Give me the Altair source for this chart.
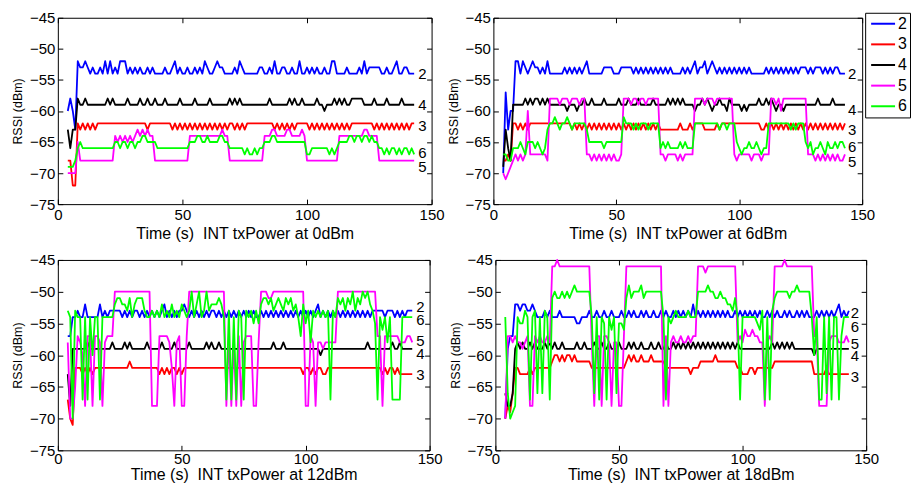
import altair as alt
import pandas as pd

FONT = "Liberation Sans"
SERIES = ["2", "3", "4", "5", "6"]
COLORS = ["#0000FF", "#FF0000", "#000000", "#FF00FF", "#00FF00"]
TIME = list(range(4, 144))  # one RSSI sample per second
X_TICKS = [0, 50, 100, 150]
Y_TICKS = [-75, -70, -65, -60, -55, -50, -45]
TITLES = [
    "Time (s)\u00a0 INT txPower at 0dBm",
    "Time (s)\u00a0 INT txPower at 6dBm",
    "Time (s)\u00a0 INT txPower at 12dBm",
    "Time (s)\u00a0 INT txPower at 18dBm",
]

# ---------------- panel 1 : 0 dBm ----------------
P1_2 = [-60,-58,-60,-63,-52,-53,-53,-52,-53,-54, -53,-54,-54,-53,-54,-52,-54,-52,-54,-53,
        -54,-52,-52,-52,-54,-53,-54,-53,-54,-53, -54,-54,-53,-54,-53,-54,-54,-54,-54,-53,
        -54,-54,-53,-52,-54,-53,-54,-54,-53,-54, -54,-53,-54,-53,-54,-52,-53,-54,-54,-53,
        -52,-53,-53,-54,-54,-54,-54,-53,-54,-52, -53,-54,-54,-54,-54,-54,-54,-53,-53,-54,
        -54,-53,-54,-52,-54,-54,-53,-53,-54,-54, -53,-54,-54,-52,-54,-54,-53,-54,-53,-54,
        -53,-54,-54,-53,-54,-54,-52,-52,-54,-54, -54,-54,-53,-54,-54,-54,-54,-53,-54,-52,
        -54,-53,-53,-53,-53,-53,-54,-54,-53,-54, -54,-53,-52,-54,-54,-53,-53,-54,-54,-54]
P1_3 = [-68,-68,-72,-72,-62,-63,-62,-63,-62,-63, -62,-63,-62,-62,-62,-62,-62,-62,-62,-62,
        -62,-62,-62,-62,-62,-62,-62,-62,-62,-62, -62,-62,-63,-62,-62,-62,-62,-62,-62,-62,
        -62,-62,-63,-62,-63,-62,-63,-62,-63,-62, -63,-62,-63,-62,-63,-62,-63,-62,-63,-62,
        -63,-62,-63,-62,-63,-62,-62,-63,-62,-63, -62,-63,-62,-62,-62,-62,-62,-62,-62,-62,
        -62,-62,-62,-63,-62,-63,-62,-63,-62,-63, -62,-63,-62,-62,-62,-62,-62,-63,-62,-63,
        -62,-63,-62,-63,-62,-63,-62,-63,-62,-63, -62,-63,-62,-63,-62,-62,-62,-62,-62,-62,
        -62,-62,-62,-63,-62,-63,-62,-63,-62,-63, -62,-63,-62,-63,-62,-63,-62,-63,-62,-62]
P1_4 = [-63,-66,-63,-63,-58,-59,-59,-58,-59,-59, -59,-59,-59,-59,-59,-59,-58,-59,-58,-59,
        -59,-59,-59,-59,-58,-59,-59,-59,-59,-58, -59,-59,-58,-59,-59,-58,-59,-59,-59,-58,
        -59,-59,-59,-59,-59,-58,-59,-59,-59,-59, -59,-58,-59,-59,-59,-59,-59,-58,-59,-59,
        -59,-59,-59,-59,-59,-58,-59,-58,-59,-58, -59,-59,-59,-59,-59,-59,-59,-59,-59,-59,
        -59,-58,-59,-59,-59,-59,-59,-59,-59,-58, -59,-58,-59,-59,-58,-59,-59,-59,-59,-59,
        -58,-59,-59,-60,-59,-59,-59,-58,-59,-58, -59,-58,-59,-59,-58,-58,-58,-58,-58,-59,
        -59,-59,-59,-58,-59,-59,-59,-59,-58,-59, -59,-59,-59,-59,-58,-59,-59,-59,-59,-59]
P1_5 = [-70,-70,-70,-70,-65,-68,-68,-68,-68,-68, -68,-68,-68,-68,-68,-68,-68,-68,-68,-64,
        -65,-64,-65,-64,-65,-64,-65,-64,-63,-64, -63,-64,-63,-64,-64,-68,-68,-68,-68,-68,
        -68,-68,-68,-68,-68,-68,-68,-68,-68,-64, -64,-64,-64,-64,-64,-64,-64,-64,-64,-64,
        -64,-64,-63,-64,-64,-68,-68,-68,-68,-68, -68,-68,-68,-68,-68,-68,-68,-68,-68,-64,
        -64,-64,-63,-63,-64,-64,-64,-64,-63,-63, -64,-64,-64,-64,-63,-64,-68,-68,-68,-68,
        -68,-68,-68,-68,-68,-68,-68,-68,-68,-64, -64,-64,-64,-64,-64,-64,-64,-64,-64,-63,
        -63,-64,-64,-64,-64,-68,-68,-68,-68,-68, -68,-68,-68,-68,-68,-68,-68,-68,-68,-68]
P1_6 = [-69,-69,-69,-68,-66,-65,-66,-66,-66,-66, -66,-66,-66,-66,-66,-66,-66,-66,-66,-65,
        -65,-66,-65,-65,-66,-65,-65,-66,-65,-65, -64,-64,-65,-65,-65,-65,-66,-66,-66,-66,
        -66,-66,-66,-66,-66,-66,-66,-66,-66,-65, -65,-65,-64,-64,-65,-65,-64,-65,-65,-65,
        -65,-64,-64,-65,-65,-66,-66,-66,-66,-66, -66,-67,-66,-67,-67,-66,-67,-66,-66,-65,
        -65,-65,-64,-64,-65,-65,-65,-65,-65,-65, -65,-65,-65,-65,-65,-65,-67,-67,-66,-66,
        -66,-66,-66,-66,-66,-67,-66,-67,-66,-65, -65,-65,-65,-64,-64,-65,-64,-64,-65,-64,
        -64,-65,-64,-65,-65,-66,-66,-67,-66,-67, -66,-66,-67,-66,-67,-66,-66,-67,-66,-67]

# ---------------- panel 2 : 6 dBm ----------------
P2_2 = [-70,-57,-63,-60,-60,-52,-52,-54,-52,-53, -54,-53,-52,-53,-53,-54,-53,-54,-52,-54,
        -54,-54,-54,-54,-54,-53,-54,-53,-54,-53, -54,-53,-54,-53,-52,-54,-54,-54,-54,-54,
        -54,-53,-53,-53,-53,-54,-54,-54,-53,-53, -53,-53,-53,-54,-53,-54,-53,-54,-53,-54,
        -53,-54,-53,-54,-53,-54,-53,-54,-53,-54, -54,-54,-54,-53,-54,-53,-54,-53,-52,-54,
        -53,-53,-52,-54,-53,-52,-53,-54,-53,-54, -53,-54,-53,-54,-53,-54,-53,-54,-53,-54,
        -53,-54,-54,-54,-54,-54,-54,-53,-54,-53, -54,-53,-54,-53,-54,-53,-54,-53,-54,-53,
        -54,-53,-53,-53,-54,-53,-54,-53,-53,-53, -54,-53,-54,-53,-54,-53,-53,-54,-54,-54]
P2_3 = [-68,-68,-67,-68,-62,-62,-63,-62,-63,-62, -63,-62,-62,-62,-62,-62,-62,-62,-62,-62,
        -62,-62,-62,-62,-62,-62,-62,-62,-63,-62, -63,-62,-63,-62,-63,-62,-63,-62,-63,-62,
        -63,-62,-63,-62,-63,-62,-63,-62,-63,-62, -63,-62,-63,-62,-63,-62,-63,-62,-63,-62,
        -63,-62,-63,-62,-63,-63,-63,-63,-63,-63, -63,-63,-62,-63,-63,-63,-62,-63,-62,-62,
        -62,-62,-63,-63,-63,-63,-63,-62,-63,-62, -62,-62,-62,-62,-62,-62,-62,-62,-62,-62,
        -62,-62,-62,-62,-62,-63,-63,-62,-63,-62, -63,-62,-63,-62,-63,-62,-63,-62,-63,-62,
        -63,-62,-63,-62,-63,-62,-63,-62,-63,-62, -63,-62,-63,-62,-63,-62,-63,-62,-63,-62]
P2_4 = [-69,-63,-66,-68,-59,-59,-59,-59,-59,-58, -59,-58,-59,-58,-58,-59,-58,-59,-58,-59,
        -59,-59,-59,-59,-59,-59,-60,-59,-59,-59, -60,-59,-59,-58,-59,-59,-58,-59,-59,-59,
        -59,-58,-59,-59,-59,-59,-59,-58,-59,-59, -59,-58,-59,-59,-59,-58,-59,-59,-59,-59,
        -59,-58,-59,-59,-59,-59,-59,-58,-59,-58, -59,-58,-59,-58,-59,-59,-59,-59,-60,-59,
        -59,-58,-59,-58,-59,-60,-59,-59,-58,-59, -59,-60,-58,-59,-59,-59,-59,-60,-59,-60,
        -59,-59,-59,-59,-58,-59,-59,-58,-59,-58, -59,-60,-59,-59,-60,-59,-59,-59,-59,-59,
        -59,-59,-59,-59,-59,-59,-59,-59,-58,-59, -59,-59,-59,-59,-58,-59,-59,-59,-59,-59]
P2_5 = [-70,-71,-70,-69,-68,-67,-68,-67,-68,-67, -60,-67,-67,-67,-67,-67,-67,-67,-68,-58,
        -58,-58,-58,-59,-58,-58,-58,-59,-58,-58, -58,-59,-58,-58,-67,-67,-68,-67,-68,-67,
        -68,-67,-68,-67,-68,-67,-68,-68,-67,-58, -58,-58,-59,-58,-58,-59,-58,-58,-59,-58,
        -58,-58,-58,-58,-67,-67,-68,-67,-67,-67, -67,-68,-67,-68,-67,-67,-67,-67,-58,-58,
        -58,-58,-59,-58,-58,-58,-59,-58,-58,-58, -58,-58,-58,-58,-67,-68,-67,-67,-67,-67,
        -67,-68,-67,-67,-67,-68,-67,-67,-67,-58, -58,-59,-58,-60,-58,-58,-58,-58,-58,-58,
        -58,-58,-58,-58,-67,-67,-67,-68,-67,-68, -67,-68,-67,-68,-67,-68,-67,-68,-68,-67]
P2_6 = [-67,-67,-68,-68,-66,-66,-66,-65,-66,-67, -65,-65,-65,-66,-65,-66,-67,-66,-63,-62,
        -62,-61,-62,-63,-62,-62,-61,-62,-63,-62, -62,-62,-62,-62,-63,-65,-65,-65,-65,-65,
        -65,-66,-65,-65,-65,-65,-65,-65,-65,-61, -62,-62,-62,-63,-62,-63,-62,-62,-62,-63,
        -62,-62,-62,-62,-66,-65,-66,-65,-66,-66, -66,-66,-65,-66,-65,-66,-66,-66,-62,-62,
        -62,-62,-62,-62,-62,-62,-62,-62,-63,-62, -62,-63,-62,-62,-62,-65,-66,-67,-66,-66,
        -65,-66,-66,-65,-66,-67,-66,-66,-62,-62, -62,-62,-62,-62,-62,-62,-62,-63,-62,-63,
        -62,-62,-62,-65,-66,-65,-67,-66,-66,-65, -66,-67,-65,-66,-66,-65,-66,-65,-65,-66]

# ---------------- panel 3 : 12 dBm ----------------
P3_2 = [-57,-57,-54,-54,-53,-54,-54,-52,-54,-54, -54,-54,-54,-52,-54,-53,-54,-53,-53,-53,
        -53,-53,-54,-53,-54,-53,-54,-53,-53,-54, -53,-54,-53,-54,-53,-54,-53,-54,-53,-52,
        -54,-53,-54,-53,-54,-53,-53,-52,-53,-54, -53,-54,-53,-54,-53,-54,-53,-54,-53,-53,
        -54,-53,-54,-53,-54,-53,-54,-53,-54,-53, -54,-53,-54,-53,-54,-53,-54,-54,-53,-54,
        -53,-54,-53,-54,-53,-54,-53,-54,-53,-54, -53,-54,-53,-54,-53,-54,-53,-54,-53,-54,
        -53,-52,-54,-53,-54,-53,-54,-53,-54,-53, -54,-53,-54,-53,-54,-53,-54,-53,-54,-53,
        -54,-53,-54,-53,-53,-53,-53,-53,-54,-53, -53,-53,-54,-53,-54,-53,-54,-53,-53,-53]
P3_3 = [-67,-70,-71,-62,-62,-62,-63,-62,-63,-62, -63,-62,-62,-62,-62,-62,-62,-62,-62,-62,
        -62,-62,-62,-62,-62,-61,-62,-62,-62,-62, -62,-62,-62,-62,-62,-62,-62,-63,-62,-63,
        -62,-63,-62,-62,-63,-62,-63,-62,-62,-62, -62,-62,-62,-62,-62,-62,-62,-62,-62,-62,
        -62,-62,-62,-62,-62,-62,-62,-62,-62,-62, -62,-62,-62,-62,-62,-62,-62,-62,-62,-62,
        -62,-62,-62,-62,-62,-62,-62,-62,-62,-62, -62,-62,-62,-62,-62,-63,-62,-62,-63,-62,
        -63,-62,-62,-63,-63,-62,-62,-62,-62,-62, -62,-62,-62,-62,-62,-62,-62,-62,-62,-62,
        -62,-62,-62,-62,-62,-62,-62,-63,-62,-63, -62,-62,-63,-62,-63,-63,-63,-63,-63,-63]
P3_4 = [-63,-68,-59,-59,-59,-59,-59,-59,-58,-59, -59,-59,-59,-59,-59,-59,-59,-59,-58,-59,
        -59,-59,-59,-58,-59,-58,-59,-59,-59,-59, -59,-59,-58,-59,-59,-59,-59,-59,-58,-59,
        -59,-59,-59,-58,-59,-59,-59,-59,-59,-58, -59,-59,-59,-59,-59,-59,-58,-59,-58,-59,
        -59,-58,-59,-59,-59,-59,-59,-59,-59,-59, -59,-59,-59,-59,-59,-59,-59,-59,-59,-59,
        -59,-59,-59,-58,-59,-59,-59,-58,-59,-59, -59,-59,-59,-59,-59,-59,-59,-59,-59,-59,
        -59,-59,-60,-59,-59,-59,-59,-59,-59,-59, -59,-59,-59,-59,-59,-59,-59,-59,-59,-59,
        -59,-58,-59,-59,-59,-59,-59,-59,-59,-59, -59,-58,-59,-59,-58,-59,-59,-59,-59,-59]
P3_5 = [-58,-70,-70,-65,-57,-58,-60,-68,-57,-57, -68,-57,-57,-58,-68,-58,-57,-57,-57,-50,
        -50,-50,-50,-50,-50,-50,-50,-50,-50,-50, -50,-50,-50,-50,-68,-68,-68,-57,-57,-57,
        -57,-58,-62,-68,-58,-57,-68,-68,-57,-50, -50,-50,-50,-50,-50,-50,-50,-50,-50,-50,
        -50,-50,-50,-50,-68,-57,-68,-58,-68,-57, -68,-58,-57,-57,-57,-68,-68,-58,-50,-50,
        -50,-51,-51,-50,-50,-50,-50,-50,-50,-50, -50,-50,-50,-50,-50,-50,-68,-68,-57,-58,
        -68,-58,-58,-59,-58,-58,-58,-58,-58,-50, -50,-50,-50,-50,-50,-50,-50,-50,-50,-50,
        -50,-50,-50,-50,-50,-57,-57,-68,-57,-57, -57,-57,-57,-57,-58,-58,-58,-57,-57,-58]
P3_6 = [-53,-54,-70,-53,-54,-54,-67,-54,-67,-54, -60,-54,-54,-67,-54,-54,-54,-54,-54,-52,
        -51,-51,-52,-52,-53,-51,-54,-52,-51,-51, -51,-53,-54,-54,-53,-54,-53,-54,-52,-54,
        -53,-54,-52,-54,-53,-54,-52,-53,-54,-53, -50,-54,-52,-50,-54,-53,-50,-53,-52,-52,
        -52,-51,-52,-54,-67,-53,-67,-54,-67,-53, -54,-67,-53,-54,-53,-55,-53,-55,-52,-51,
        -51,-52,-51,-53,-52,-51,-52,-53,-51,-52, -51,-53,-52,-54,-57,-52,-55,-53,-58,-53,
        -54,-53,-54,-53,-54,-53,-67,-53,-54,-51, -52,-51,-53,-51,-52,-50,-53,-51,-52,-50,
        -51,-50,-52,-53,-55,-67,-54,-56,-54,-58, -54,-67,-67,-67,-67,-54,-54,-54,-54,-54]

# ---------------- panel 4 : 18 dBm ----------------
P4_2 = [-70,-59,-57,-57,-52,-52,-53,-52,-52,-53, -53,-52,-53,-54,-54,-54,-53,-54,-53,-54,
        -54,-54,-53,-54,-54,-54,-54,-54,-54,-55, -55,-54,-54,-54,-53,-54,-54,-53,-54,-54,
        -53,-54,-54,-53,-54,-54,-54,-53,-54,-54, -53,-54,-53,-54,-54,-53,-54,-53,-54,-54,
        -53,-54,-54,-53,-54,-53,-54,-54,-53,-54, -53,-54,-53,-54,-53,-54,-52,-54,-53,-54,
        -53,-54,-53,-54,-53,-54,-53,-54,-53,-54, -53,-54,-54,-53,-54,-53,-54,-53,-54,-53,
        -54,-53,-54,-53,-54,-54,-53,-54,-53,-54, -53,-54,-54,-53,-54,-53,-54,-54,-53,-54,
        -53,-54,-53,-54,-54,-54,-53,-54,-53,-54, -53,-54,-53,-54,-53,-52,-54,-53,-54,-53]
P4_3 = [-70,-68,-69,-66,-62,-62,-63,-63,-63,-63, -62,-63,-62,-62,-62,-62,-62,-62,-62,-61,
        -60,-60,-61,-60,-61,-60,-60,-61,-60,-61, -61,-61,-61,-61,-61,-62,-62,-62,-62,-62,
        -62,-62,-62,-62,-62,-62,-62,-62,-62,-61, -60,-61,-60,-61,-61,-60,-61,-61,-61,-60,
        -61,-61,-61,-61,-61,-62,-62,-62,-62,-62, -62,-62,-62,-62,-62,-63,-62,-62,-62,-61,
        -61,-61,-61,-61,-61,-60,-61,-61,-61,-61, -61,-61,-61,-61,-62,-62,-63,-63,-63,-62,
        -62,-63,-62,-62,-62,-62,-62,-62,-62,-61, -61,-61,-61,-61,-61,-61,-61,-61,-61,-61,
        -61,-61,-61,-61,-61,-63,-63,-63,-63,-63, -62,-63,-63,-63,-63,-63,-63,-63,-63,-63]
P4_4 = [-66,-68,-68,-66,-59,-58,-59,-58,-59,-59, -58,-59,-58,-59,-59,-59,-58,-59,-58,-59,
        -58,-59,-59,-58,-59,-59,-59,-59,-59,-58, -59,-59,-58,-59,-59,-59,-58,-59,-59,-58,
        -59,-59,-58,-59,-59,-59,-58,-59,-59,-59, -58,-59,-58,-59,-59,-58,-59,-59,-59,-58,
        -59,-59,-58,-59,-59,-58,-59,-59,-58,-59, -58,-59,-58,-59,-58,-59,-58,-59,-58,-59,
        -58,-59,-58,-59,-58,-59,-58,-59,-58,-59, -58,-59,-58,-59,-58,-59,-59,-59,-59,-59,
        -59,-59,-59,-59,-59,-59,-59,-59,-58,-59, -58,-59,-58,-59,-58,-59,-58,-59,-59,-59,
        -59,-59,-59,-59,-59,-60,-59,-59,-59,-59, -59,-59,-59,-59,-59,-59,-59,-59,-59,-59]
P4_5 = [-70,-57,-57,-58,-57,-58,-58,-59,-58,-57, -68,-68,-57,-58,-57,-58,-58,-57,-58,-46,
        -46,-45,-46,-46,-46,-46,-46,-46,-46,-46, -46,-46,-46,-46,-46,-58,-68,-57,-57,-68,
        -57,-57,-58,-68,-58,-58,-68,-68,-57,-46, -46,-46,-46,-46,-46,-46,-46,-46,-46,-46,
        -46,-46,-46,-46,-68,-57,-68,-58,-57,-58, -58,-57,-58,-58,-57,-58,-57,-57,-46,-46,
        -46,-47,-46,-46,-46,-46,-46,-46,-46,-46, -46,-46,-46,-46,-58,-57,-58,-56,-57,-57,
        -56,-57,-57,-58,-58,-68,-58,-57,-58,-46, -46,-46,-46,-45,-46,-46,-46,-46,-46,-46,
        -46,-46,-46,-46,-46,-57,-57,-68,-68,-68, -68,-58,-57,-57,-57,-58,-58,-58,-57,-58]
P4_6 = [-54,-66,-70,-69,-68,-54,-55,-55,-53,-54, -67,-54,-53,-66,-54,-66,-53,-54,-67,-51,
        -50,-51,-51,-50,-51,-50,-51,-50,-49,-50, -50,-50,-50,-50,-50,-54,-66,-54,-67,-54,
        -55,-67,-54,-56,-54,-66,-55,-55,-56,-51, -49,-51,-50,-50,-50,-49,-51,-50,-50,-50,
        -50,-50,-50,-50,-54,-67,-54,-55,-54,-53, -54,-54,-54,-54,-53,-54,-54,-54,-50,-50,
        -50,-50,-49,-50,-50,-51,-51,-50,-51,-51, -52,-52,-53,-51,-54,-67,-54,-54,-54,-54,
        -54,-54,-55,-56,-53,-67,-54,-67,-53,-51, -50,-50,-50,-50,-50,-51,-50,-50,-49,-50,
        -50,-50,-50,-50,-54,-60,-54,-67,-67,-54, -66,-54,-67,-54,-54,-67,-57,-54,-54,-54]

PANELS = [
    {"2": P1_2, "3": P1_3, "4": P1_4, "5": P1_5, "6": P1_6},
    {"2": P2_2, "3": P2_3, "4": P2_4, "5": P2_5, "6": P2_6},
    {"2": P3_2, "3": P3_3, "4": P3_4, "5": P3_5, "6": P3_6},
    {"2": P4_2, "3": P4_3, "4": P4_4, "5": P4_5, "6": P4_6},
]

# end-of-line labels written at the right of every panel
LABEL_NAMES = ["2", "4", "3", "6", "5"]
LABEL_T = [144.6, 144.2, 144.6, 143.8]
LABEL_V = [
    [-54.0, -59.1, -62.4, -66.8, -69.0],
    [-54.1, -59.8, -63.1, -65.8, -68.2],
    [-52.4, -59.9, -63.1, -54.4, -57.7],
    [-53.4, -60.1, -63.4, -55.5, -58.3],
]

for p in PANELS:
    for k, v in p.items():
        if len(v) != len(TIME):
            raise ValueError(f"series {k} has {len(v)} values")

XS = alt.Scale(domain=[0, 150], nice=False, zero=False)
YS = alt.Scale(domain=[-75, -45], nice=False, zero=False)
CS = alt.Scale(domain=SERIES, range=COLORS)

WIDTHS = [375, 370, 373, 372]
HEIGHTS = [187, 187, 191, 191]
LBL = dict(labelFont=FONT, labelFontSize=15, labelColor="black",
           tickColor="black", tickWidth=1)


def panel(i, legend, bottom_row):
    rows = []
    for s in SERIES:
        for t, v in zip(TIME, PANELS[i][s]):
            rows.append({"t": t, "v": v, "s": s})
    df = pd.DataFrame(rows)
    lab = pd.DataFrame({"t": [LABEL_T[i]] * 5, "v": LABEL_V[i], "s": LABEL_NAMES})

    xa = alt.Axis(values=X_TICKS, orient="bottom", tickSize=5, offset=-5,
                  labelPadding=1 if bottom_row else 3,
                  domain=False, grid=False, labelFlush=False, labelOverlap=False,
                  title=TITLES[i], titleFontSize=16, titleFontWeight="normal",
                  titlePadding=0 if bottom_row else 3, titleFont=FONT,
                  titleColor="black", **LBL)
    ya = alt.Axis(values=Y_TICKS, orient="left", tickSize=5, offset=-5, labelPadding=3,
                  domain=False, grid=False, labelFlush=False, labelOverlap=False,
                  title="RSSI (dBm)", titleFontSize=12.5, titleFontWeight="normal",
                  titlePadding=5, titleFont=FONT, titleColor="black", **LBL)
    xa2 = alt.Axis(values=X_TICKS, orient="top", tickSize=5, offset=-5, labels=False,
                   domain=False, grid=False, title=None, tickColor="black")
    ya2 = alt.Axis(values=Y_TICKS, orient="right", tickSize=5, offset=-5, labels=False,
                   domain=False, grid=False, title=None, tickColor="black")

    if legend:
        leg = alt.Legend(orient="none", legendX=373, legendY=-5, title=None,
                         symbolType="M-1,0L3.8,0", symbolSize=100, symbolStrokeWidth=2,
                         labelFontSize=16, labelFont=FONT, labelColor="black",
                         labelOffset=14, rowPadding=4.7, padding=3,
                         strokeColor="black", fillColor="white")
    else:
        leg = None

    lines = alt.Chart(df).mark_line(strokeWidth=1.8, strokeJoin="round").encode(
        x=alt.X("t:Q", scale=XS, axis=xa),
        y=alt.Y("v:Q", scale=YS, axis=ya),
        color=alt.Color("s:N", scale=CS, legend=leg),
    )
    ticks = alt.Chart(df).mark_point(opacity=0).encode(
        x=alt.X("t:Q", scale=XS, axis=xa2),
        y=alt.Y("v:Q", scale=YS, axis=ya2),
    )
    texts = alt.Chart(lab).mark_text(align="left", baseline="middle", fontSize=15,
                                     font=FONT, color="black").encode(
        x=alt.X("t:Q", scale=XS, axis=None),
        y=alt.Y("v:Q", scale=YS, axis=None),
        text="s:N",
    )
    return alt.layer(lines, ticks, texts).resolve_axis(
        x="independent", y="independent"
    ).properties(width=WIDTHS[i], height=HEIGHTS[i])


row1 = alt.hconcat(panel(0, False, False), panel(1, True, False), spacing=62,
                   bounds="flush").resolve_scale(color="independent")
row2 = alt.hconcat(panel(2, False, True), panel(3, False, True), spacing=66,
                   bounds="flush").resolve_scale(color="independent")

chart = alt.vconcat(row1, row2, spacing=10).resolve_scale(
    color="independent"
).properties(
    padding={"top": 1, "left": 3, "right": 0, "bottom": 0}
).configure_view(
    stroke="black", strokeWidth=1
)

chart.save("out.html", embed_options={"renderer": "svg", "actions": False})
